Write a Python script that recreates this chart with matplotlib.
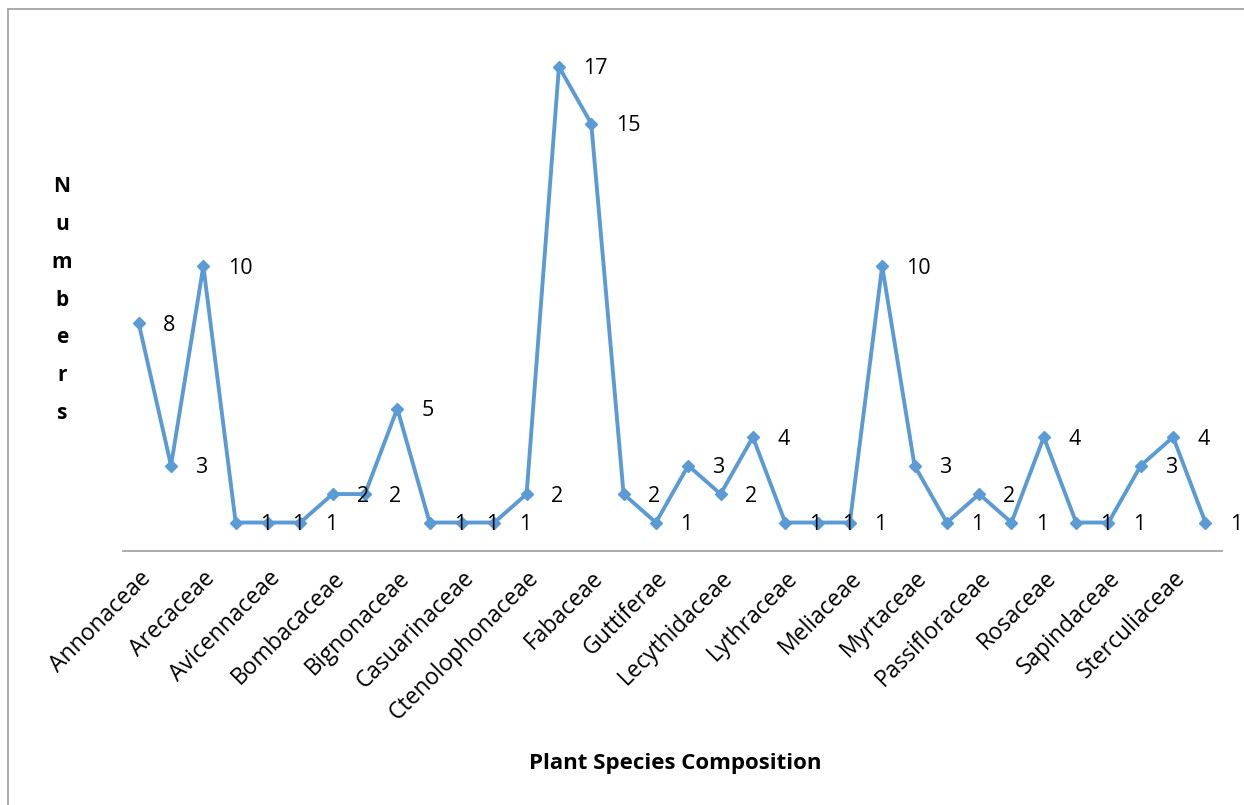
import matplotlib
matplotlib.use("Agg")
import matplotlib.pyplot as plt
from matplotlib.lines import Line2D
import numpy as np

plt.rcParams["font.family"] = ["Open Sans", "DejaVu Sans"]

families = [
    "Annonaceae", "", "Arecaceae", "", "Avicennaceae", "", "Bombacaceae", "",
    "Bignonaceae", "", "Casuarinaceae", "", "Ctenolophonaceae", "", "Fabaceae", "",
    "Guttiferae", "", "Lecythidaceae", "", "Lythraceae", "", "Meliaceae", "",
    "Myrtaceae", "", "Passifloraceae", "", "Rosaceae", "", "Sapindaceae", "",
    "Sterculiaceae", "",
]
counts = [8, 3, 10, 1, 1, 1, 2, 2, 5, 1, 1, 1, 2, 17, 15, 2, 1, 3, 2, 4,
          1, 1, 1, 10, 3, 1, 2, 1, 4, 1, 1, 3, 4, 1]

blue = "#5B9BD5"
grey = "#A6A6A6"

fig = plt.figure(figsize=(12.44, 8.05), dpi=100)
ax = fig.add_axes([0.0985, 0.3155, 0.8835, 0.637])

x = np.arange(len(counts))
ax.plot(x, counts, color=blue, lw=2.8, marker="D", ms=6.6, mfc=blue, mec=blue, zorder=3)

for xi, v in zip(x, counts):
    ax.annotate(str(v), (xi, v), xytext=(17.5, -1.5), textcoords="offset points",
                ha="left", va="center", fontsize=15.5, color="black", zorder=4)

ax.set_xlim(-0.5, len(counts) - 0.5)
ax.set_ylim(0, 18)
ax.set_yticks([])
ax.set_xticks(x)
ax.set_xticklabels(families, rotation=45, ha="right", rotation_mode="anchor",
                   fontsize=16.5)
ax.tick_params(axis="x", length=0, pad=11)

for side in ["top", "right", "left"]:
    ax.spines[side].set_visible(False)
ax.spines["bottom"].set_color(grey)
ax.spines["bottom"].set_linewidth(1.3)

fig.text(675 / 1244, 1 - 763 / 805, "Plant Species Composition", ha="center", va="center",
         fontsize=16, fontweight="bold")
fig.text(62 / 1244, 1 - 300 / 805, "\n".join("Numbers"), ha="center", va="center",
         fontsize=15, fontweight="bold", linespacing=2.05)

# chart area border (top and left edges visible)
fig.add_artist(Line2D([8 / 1244, 8 / 1244], [0, 1 - 9 / 805], transform=fig.transFigure,
                      color=grey, lw=1.3))
fig.add_artist(Line2D([8 / 1244, 1], [1 - 9 / 805, 1 - 9 / 805], transform=fig.transFigure,
                      color=grey, lw=1.3))

fig.savefig("out.png", dpi=100)
